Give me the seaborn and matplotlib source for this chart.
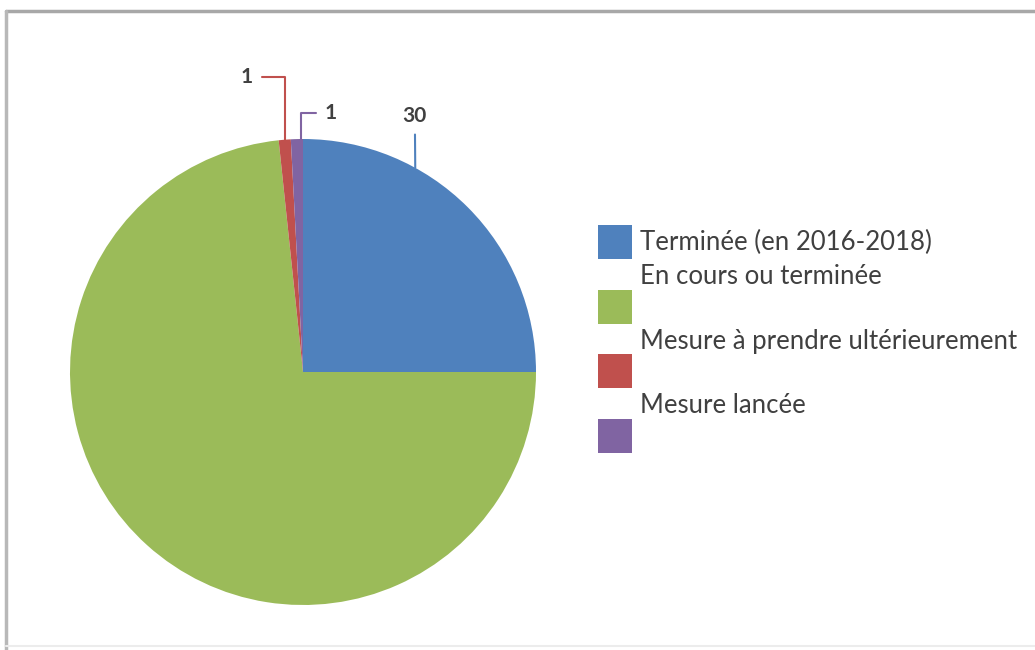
import numpy as np
import matplotlib
matplotlib.use("Agg")
import matplotlib.pyplot as plt
from matplotlib.lines import Line2D
from matplotlib.patches import Rectangle
import seaborn as sns

categories = ["Terminée (en 2016-2018)", "En cours ou terminée",
              "Mesure à prendre ultérieurement", "Mesure lancée"]
values = [30, 88, 1, 1]
shown_labels = ["30", None, "1", "1"]
colors = ["#4F81BD", "#9BBB59", "#C0504D", "#8064A2"]

sns.set_theme(style="white")
plt.rcParams["font.family"] = ["Lato", "DejaVu Sans"]
palette = sns.color_palette(colors)

W, H = 1035, 650
fig = plt.figure(figsize=(W / 100, H / 100), dpi=100)
fig.patch.set_facecolor("white")

cx, cy, r = 303, 372, 233
ax = fig.add_axes([(cx - r) / W, (H - cy - r) / H, 2 * r / W, 2 * r / H])
wedges, _ = ax.pie(values, colors=palette, startangle=90, counterclock=False,
                   radius=1.0, wedgeprops=dict(linewidth=0))
ax.set_xlim(-1, 1)
ax.set_ylim(-1, 1)
ax.set_aspect("equal")
ax.axis("off")

txtc = "#404040"
specs = {
    0: dict(frac=0.68, xytext=(0.48, 1.10), conn="arc3"),
    2: dict(frac=0.45, xytext=(-0.24, 1.265), conn="angle,angleA=0,angleB=90,rad=0"),
    3: dict(frac=0.20, xytext=(0.118, 1.11), conn="angle,angleA=0,angleB=90,rad=0"),
}
for i, s in specs.items():
    w = wedges[i]
    t1, t2 = w.theta1, w.theta2
    ang = np.deg2rad(t1 + (t2 - t1) * s["frac"])
    px, py = np.cos(ang), np.sin(ang)
    ax.annotate(shown_labels[i], xy=(px, py), xytext=s["xytext"],
                ha="center", va="center", fontsize=15, fontweight="bold",
                color=txtc, annotation_clip=False,
                arrowprops=dict(arrowstyle="-", color=colors[i], lw=1.5,
                                connectionstyle=s["conn"], shrinkA=4, shrinkB=0))

# legend (Excel-style: text sits above the swatch for wrapped entries)
sq = 34
for i, (cat, col) in enumerate(zip(categories, palette)):
    top = 225 + 64.5 * i
    fig.add_artist(Rectangle((598 / W, 1 - (top + sq) / H), sq / W, sq / H,
                             transform=fig.transFigure, facecolor=col,
                             edgecolor="none"))
    ty = top + sq / 2 if i == 0 else top - 13
    fig.text(640 / W, 1 - ty / H, cat, ha="left", va="center",
             fontsize=18.5, color=txtc)

# outer frame
fig.add_artist(Line2D([6 / W, 1.0], [1 - 11 / H, 1 - 11 / H], color="#a8a8a8", lw=2.5))
fig.add_artist(Line2D([6 / W, 6 / W], [0, 1 - 11 / H], color="#b8b8b8", lw=2.5))
fig.add_artist(Line2D([6 / W, 1.0], [4 / H, 4 / H], color="#ececec", lw=1.5))

fig.savefig("out.png", dpi=100, facecolor="white")
